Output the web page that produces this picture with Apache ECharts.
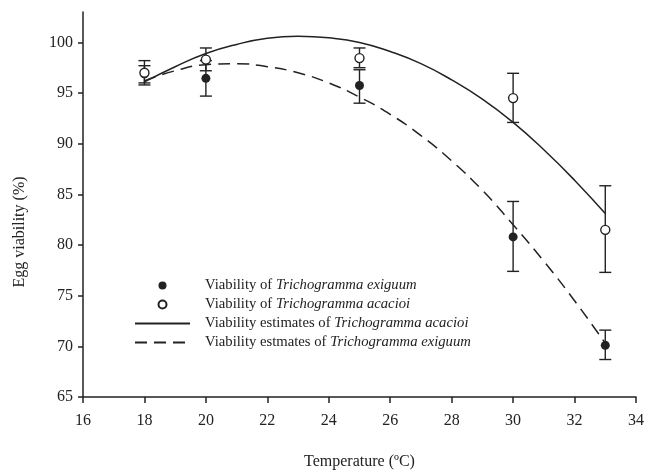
<!DOCTYPE html>
<html>
<head>
<meta charset="utf-8">
<script src="https://cdn.jsdelivr.net/npm/echarts@6/dist/echarts.min.js"></script>
<style>
html,body{margin:0;padding:0;background:#fff;}
#chart{width:648px;height:475px;}
</style>
</head>
<body>
<div id="chart"></div>
<script>
// Observed temperatures
var temps = [18, 20, 25, 30, 33];
// T. exiguum (filled circles)
var exiguumMean = [96.9, 96.45, 95.75, 80.8, 70.1];
var exiguumLow  = [96.0, 94.7, 94.0, 77.4, 68.7];
var exiguumHigh = [97.7, 98.2, 97.3, 84.3, 71.6];
// T. acacioi (open circles)
var acacioiMean = [97.0, 98.3, 98.45, 94.5, 81.5];
var acacioiLow  = [95.8, 97.2, 97.5, 92.1, 77.3];
var acacioiHigh = [98.2, 99.45, 99.45, 96.95, 85.85];
// Estimated curves
var curveX = [18, 19, 20, 21, 22, 23, 24, 25, 26, 27, 28, 29, 30, 31, 32, 33];
var acacioiCurve = [96.1, 97.6, 98.9, 99.8, 100.4, 100.6, 100.45, 100.0, 99.1, 97.9, 96.3, 94.4, 92.1, 89.4, 86.4, 83.1];
var exiguumCurve = [96.2, 97.2, 97.8, 97.9, 97.6, 97.0, 96.0, 94.6, 92.9, 90.8, 88.3, 85.4, 82.0, 78.4, 74.5, 70.3];
// Axis ticks
var xTicks = [16, 18, 20, 22, 24, 26, 28, 30, 32, 34];
var yTicks = [65, 70, 75, 80, 85, 90, 95, 100];

var FONT = 'Liberation Serif';
var INK = '#222';
var LEGEND_FS = 14.7;

function pairs(xs, ys) { return xs.map(function (x, i) { return [x, ys[i]]; }); }
function errData(xs, lo, hi) { return xs.map(function (x, i) { return [x, lo[i], hi[i]]; }); }

function renderErr(params, api) {
  var x = api.value(0);
  var top = api.coord([x, api.value(2)]);
  var bot = api.coord([x, api.value(1)]);
  var hw = 6;
  var st = { stroke: INK, lineWidth: 1.4 };
  return {
    type: 'group',
    children: [
      { type: 'line', shape: { x1: top[0], y1: top[1], x2: bot[0], y2: bot[1] }, style: st },
      { type: 'line', shape: { x1: top[0] - hw, y1: top[1], x2: top[0] + hw, y2: top[1] }, style: st },
      { type: 'line', shape: { x1: bot[0] - hw, y1: bot[1], x2: bot[0] + hw, y2: bot[1] }, style: st }
    ]
  };
}

var hiddenSym = { color: 'rgba(0,0,0,0)', borderColor: 'rgba(0,0,0,0)', borderWidth: 0 };

var chart = echarts.init(document.getElementById('chart'), null, { renderer: 'canvas' });
var option = {
  animation: false,
  backgroundColor: '#fff',
  textStyle: { fontFamily: FONT, color: INK },
  grid: { left: 83, right: 12, top: 12, bottom: 73, containLabel: false },
  legend: {
    orient: 'vertical',
    left: 129,
    top: 273,
    itemWidth: 55,
    itemHeight: 8,
    itemGap: 4,
    selectedMode: false,
    data: [
      { name: 'Viability of Trichogramma exiguum' },
      { name: 'Viability of Trichogramma acacioi' },
      { name: 'Viability estimates of Trichogramma acacioi', itemStyle: hiddenSym },
      { name: 'Viability estmates of Trichogramma exiguum', itemStyle: hiddenSym }
    ],
    formatter: function (name) {
      var idx = name.indexOf('Trichogramma');
      return '{n|' + name.slice(0, idx) + '}{i|' + name.slice(idx) + '}';
    },
    textStyle: {
      fontFamily: FONT, fontSize: LEGEND_FS, color: INK, padding: [0, 0, 0, 10],
      rich: {
        n: { fontFamily: FONT, fontSize: LEGEND_FS, color: INK },
        i: { fontFamily: FONT, fontSize: LEGEND_FS, color: INK, fontStyle: 'italic' }
      }
    }
  },
  xAxis: {
    type: 'value',
    min: 16, max: 34, interval: 2,
    name: 'Temperature (ºC)',
    nameLocation: 'middle',
    nameGap: 57,
    nameTextStyle: { fontFamily: FONT, fontSize: 16, color: INK },
    axisLine: { show: true, onZero: false, lineStyle: { color: INK, width: 1.5 } },
    axisTick: { show: true, inside: false, length: 6, lineStyle: { color: INK, width: 1.5 } },
    axisLabel: { fontFamily: FONT, fontSize: 16, color: INK, margin: 16 },
    splitLine: { show: false }
  },
  yAxis: {
    type: 'value',
    min: 65, max: 103,
    name: 'Egg viability (%)',
    nameLocation: 'middle',
    nameGap: 55,
    nameTextStyle: { fontFamily: FONT, fontSize: 16, color: INK, padding: [0, 55, 0, 0] },
    axisLine: { show: true, onZero: false, lineStyle: { color: INK, width: 1.5 } },
    axisTick: { show: true, inside: false, length: 5, customValues: yTicks, lineStyle: { color: INK, width: 1.5 } },
    axisLabel: { fontFamily: FONT, fontSize: 16, color: INK, margin: 10, customValues: yTicks },
    splitLine: { show: false }
  },
  series: [
    {
      name: 'Viability estimates of Trichogramma acacioi',
      type: 'line',
      data: pairs(curveX, acacioiCurve),
      smooth: 0.5,
      symbol: 'none',
      lineStyle: { color: INK, width: 1.5, type: 'solid' },
      itemStyle: { color: INK },
      z: 2
    },
    {
      name: 'Viability estmates of Trichogramma exiguum',
      type: 'line',
      data: pairs(curveX, exiguumCurve),
      smooth: 0.5,
      symbol: 'none',
      lineStyle: { color: INK, width: 1.5, type: [12, 7] },
      itemStyle: { color: INK },
      z: 2
    },
    {
      name: 'errExiguum',
      type: 'custom',
      renderItem: renderErr,
      data: errData(temps, exiguumLow, exiguumHigh),
      encode: { x: 0, y: [1, 2] },
      z: 3
    },
    {
      name: 'errAcacioi',
      type: 'custom',
      renderItem: renderErr,
      data: errData(temps, acacioiLow, acacioiHigh),
      encode: { x: 0, y: [1, 2] },
      z: 3
    },
    {
      name: 'Viability of Trichogramma exiguum',
      type: 'scatter',
      data: pairs(temps, exiguumMean),
      symbol: 'circle',
      symbolSize: 9,
      itemStyle: { color: INK, borderColor: INK, borderWidth: 0, opacity: 1 },
      z: 4
    },
    {
      name: 'Viability of Trichogramma acacioi',
      type: 'scatter',
      data: pairs(temps, acacioiMean),
      symbol: 'circle',
      symbolSize: 9,
      itemStyle: { color: '#fff', borderColor: INK, borderWidth: 1.4, opacity: 1 },
      z: 5
    }
  ]
};
chart.setOption(option);
</script>
</body>
</html>
